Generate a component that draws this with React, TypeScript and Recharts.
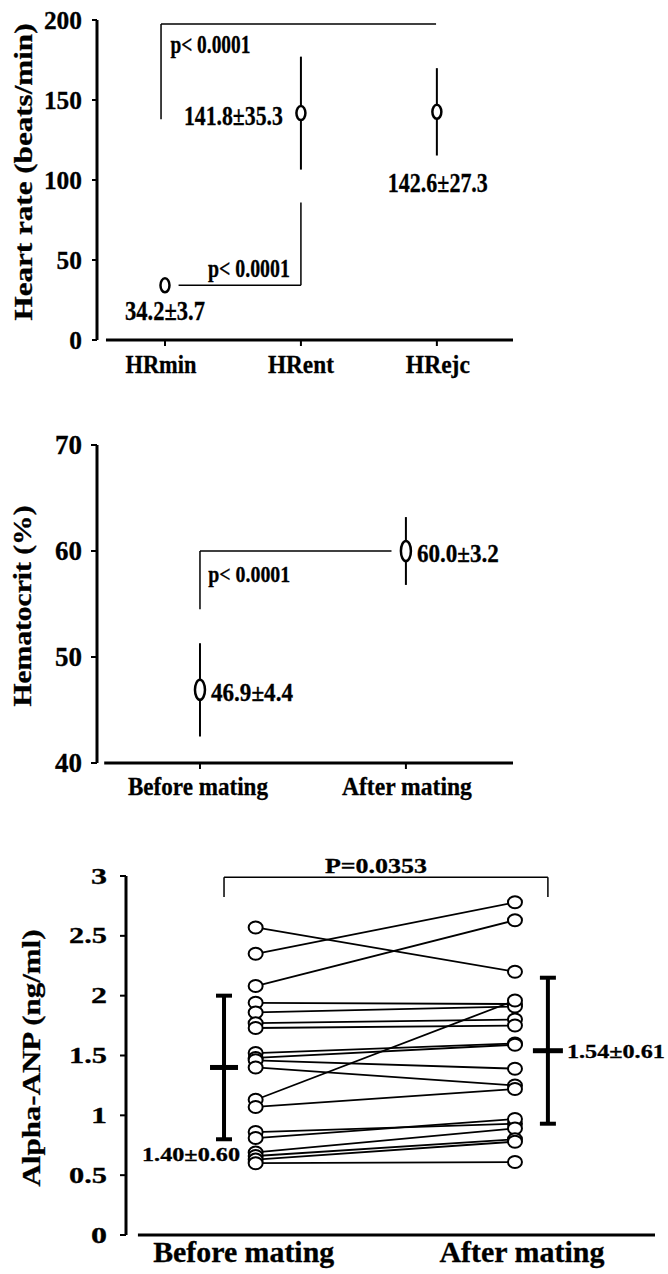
import React from "react";
import {
  ComposedChart,
  Scatter,
  XAxis,
  YAxis,
  ErrorBar,
  ReferenceLine,
  ReferenceDot,
} from "recharts";

const FONT = "'Liberation Serif', 'Times New Roman', serif";

// heart rate panel
const hrGroups = ["HRmin", "HRent", "HRejc"];
const hrMean = [34.2, 141.8, 142.6];
const hrSd = [3.7, 35.3, 27.3];
const hrTicks = [0, 50, 100, 150, 200];

// hematocrit panel
const hctGroups = ["Before mating", "After mating"];
const hctMean = [46.9, 60.0];
const hctSd = [4.4, 3.2];
const hctTicks = [40, 50, 60, 70];

// alpha-ANP panel, one entry per animal
const anpBefore = [2.57, 2.35, 2.08, 1.94, 1.86, 1.77, 1.73, 1.52, 1.48, 1.46, 1.4, 1.13, 1.07, 0.86, 0.81, 0.69, 0.66, 0.63, 0.6];
const anpAfter = [2.2, 2.78, 2.63, 1.93, 1.91, 1.8, 1.75, 1.6, 1.59, 1.39, 1.25, 1.96, 1.22, 0.93, 0.97, 0.89, 0.8, 0.78, 0.61];
const anpMean = [1.4, 1.54];
const anpSd = [0.6, 0.61];
const anpTicks = [0, 0.5, 1, 1.5, 2, 2.5, 3];

type TxtProps = {
  x: number;
  y: number;
  size: number;
  len?: number;
  anchor?: "start" | "middle" | "end";
  vertical?: boolean;
  children: React.ReactNode;
};

const Txt = ({ x, y, size, len, anchor = "start", vertical, children }: TxtProps) => (
  <text
    x={x}
    y={y}
    fontFamily={FONT}
    fontWeight="bold"
    fontSize={size}
    fill="#000"
    stroke="#000"
    strokeWidth={0.3}
    textAnchor={anchor}
    textLength={len}
    lengthAdjust="spacingAndGlyphs"
    transform={vertical ? `rotate(-90 ${x} ${y})` : undefined}
  >
    {children}
  </text>
);

const pm = (m: number, s: number, d: number) => `${m.toFixed(d)}\u00b1${s.toFixed(d)}`;

const digitLen = (s: string, digit: number, dot: number) =>
  s.split("").reduce((a, c) => a + (c === "." ? dot : digit), 0);

const noShape = () => <g />;

const axisProps = { stroke: "#000", strokeWidth: 3 };
const tickLineProps = { stroke: "#000", strokeWidth: 2 };

/* ---------- Heart rate ---------- */
const hrData = hrGroups.map((g, i) => ({ x: i + 1, y: hrMean[i], sd: hrSd[i], i }));
const hrLabelPos = [
  { dx: 0, dy: 35, anchor: "middle" as const, len: 80 },
  { dx: -18, dy: 12, anchor: "end" as const, len: 99 },
  { dx: 1, dy: 80, anchor: "middle" as const, len: 100 },
];

const HrPoint = (p: any) => {
  const lp = hrLabelPos[p.payload.i];
  return (
    <g>
      <ellipse cx={p.cx} cy={p.cy} rx={4.5} ry={7} fill="#fff" stroke="#000" strokeWidth={2.5} />
      <Txt x={p.cx + lp.dx} y={p.cy + lp.dy} size={27} len={lp.len} anchor={lp.anchor}>
        {pm(p.payload.y, p.payload.sd, 1)}
      </Txt>
    </g>
  );
};

const PText = (label: string, len: number, size: number, anchor: "start" | "middle" = "start") =>
  (p: any) => (
    <Txt x={p.cx} y={p.cy} size={size} len={len} anchor={anchor}>
      {label}
    </Txt>
  );

const HeartRate = () => (
  <ComposedChart width={668} height={390} margin={{ top: 20, right: 155, bottom: 10, left: 0 }}>
    <XAxis
      type="number"
      dataKey="x"
      domain={[0.5, 3.56]}
      ticks={[1, 2, 3]}
      axisLine={false}
      tickLine={tickLineProps}
      tickSize={6}
      height={40}
      tick={(p: any) => {
        const i = p.payload.value - 1;
        const dx = [-4, 0, 1][i];
        const len = [71, 66, 64][i];
        return (
          <Txt x={p.x + dx} y={373} size={26} len={len} anchor="middle">
            {hrGroups[i]}
          </Txt>
        );
      }}
    />
    <YAxis
      type="number"
      dataKey="y"
      domain={[0, 200]}
      ticks={hrTicks}
      width={97}
      axisLine={axisProps}
      tickLine={tickLineProps}
      tickSize={5}
      tick={(p: any) => {
        const s = String(p.payload.value);
        return (
          <Txt x={82} y={p.y + 8.5} size={26} len={s.length * 12.7} anchor="end">
            {s}
          </Txt>
        );
      }}
      label={{
        content: () => (
          <Txt x={32} y={172} size={26} len={297} anchor="middle" vertical>
            Heart rate (beats/min)
          </Txt>
        ),
      }}
    />
    <ReferenceLine segment={[{ x: 0.566, y: 0 }, { x: 3.56, y: 0 }]} stroke="#000" strokeWidth={3} />
    {/* HRmin vs HRejc */}
    <ReferenceLine segment={[{ x: 0.971, y: 197.5 }, { x: 2.994, y: 197.5 }]} stroke="#000" strokeWidth={1.5} />
    <ReferenceLine segment={[{ x: 0.971, y: 197.5 }, { x: 0.971, y: 138 }]} stroke="#000" strokeWidth={1.5} />
    <ReferenceDot x={1.04} y={179.4} r={0} shape={PText("p< 0.0001", 80, 25)} />
    {/* HRmin vs HRent */}
    <ReferenceLine segment={[{ x: 1.1, y: 34.2 }, { x: 2, y: 34.2 }]} stroke="#000" strokeWidth={1.5} />
    <ReferenceLine segment={[{ x: 2, y: 34.2 }, { x: 2, y: 86 }]} stroke="#000" strokeWidth={1.5} />
    <ReferenceDot x={1.316} y={39.4} r={0} shape={PText("p< 0.0001", 82, 25)} />
    <Scatter data={hrData} shape={noShape} isAnimationActive={false}>
      <ErrorBar dataKey="sd" direction="y" width={0} stroke="#000" strokeWidth={2} isAnimationActive={false} />
    </Scatter>
    <Scatter data={hrData} shape={HrPoint} isAnimationActive={false} />
  </ComposedChart>
);

/* ---------- Hematocrit ---------- */
const hctData = hctGroups.map((g, i) => ({ x: i + 1, y: hctMean[i], sd: hctSd[i], i }));

const HctPoint = (p: any) => (
  <g>
    <ellipse cx={p.cx} cy={p.cy} rx={5} ry={10} fill="#fff" stroke="#000" strokeWidth={2.5} />
    <Txt x={p.cx + 11} y={p.cy + 11} size={25} len={82}>
      {pm(p.payload.y, p.payload.sd, 1)}
    </Txt>
  </g>
);

const Hematocrit = () => (
  <ComposedChart width={668} height={420} margin={{ top: 45, right: 155, bottom: 10, left: 0 }}>
    <XAxis
      type="number"
      dataKey="x"
      domain={[0.5, 2.52]}
      ticks={[1, 2]}
      axisLine={false}
      tickLine={tickLineProps}
      tickSize={6}
      height={47}
      tick={(p: any) => {
        const i = p.payload.value - 1;
        return (
          <Txt x={p.x + [-2, 1][i]} y={395} size={26} len={[140, 130][i]} anchor="middle">
            {hctGroups[i]}
          </Txt>
        );
      }}
    />
    <YAxis
      type="number"
      dataKey="y"
      domain={[40, 70]}
      ticks={hctTicks}
      width={97}
      axisLine={axisProps}
      tickLine={tickLineProps}
      tickSize={6}
      tick={(p: any) => (
        <Txt x={82} y={p.y + 9} size={27} len={27} anchor="end">
          {p.payload.value}
        </Txt>
      )}
      label={{
        content: () => (
          <Txt x={31} y={206} size={26} len={201} anchor="middle" vertical>
            Hematocrit (%)
          </Txt>
        ),
      }}
    />
    <ReferenceLine segment={[{ x: 0.535, y: 40 }, { x: 2.52, y: 40 }]} stroke="#000" strokeWidth={3} />
    <ReferenceLine segment={[{ x: 1, y: 60 }, { x: 1.93, y: 60 }]} stroke="#000" strokeWidth={1.5} />
    <ReferenceLine segment={[{ x: 1, y: 60 }, { x: 1, y: 54.5 }]} stroke="#000" strokeWidth={1.5} />
    <ReferenceDot x={1.04} y={57.1} r={0} shape={PText("p< 0.0001", 82, 24)} />
    <Scatter data={hctData} shape={noShape} isAnimationActive={false}>
      <ErrorBar dataKey="sd" direction="y" width={0} stroke="#000" strokeWidth={2} isAnimationActive={false} />
    </Scatter>
    <Scatter data={hctData} shape={HctPoint} isAnimationActive={false} />
  </ComposedChart>
);

/* ---------- Alpha-ANP ---------- */
const anpPairs = anpBefore.map((b, i) => [
  { x: 1, y: b },
  { x: 2, y: anpAfter[i] },
]);
const anpBeforePts = anpBefore.map((v) => ({ x: 1, y: v }));
const anpAfterPts = anpAfter.map((v) => ({ x: 2, y: v }));
// mean bars sit just outside the individual columns
const anpMeanData = anpMean.map((m, i) => ({ x: i + 1 + (i === 0 ? -0.122 : 0.127), y: m, sd: anpSd[i], i }));

const Ring = (p: any) => (
  <ellipse cx={p.cx} cy={p.cy} rx={7} ry={6} fill="#fff" stroke="#000" strokeWidth={2} />
);

const MeanBar = (p: any) => {
  const i = p.payload.i;
  const w = i === 0 ? 28 : 30;
  return (
    <g>
      <rect x={p.cx - w / 2} y={p.cy - 2.5} width={w} height={5} fill="#000" />
      {i === 0 ? (
        <Txt x={p.cx + 16} y={p.cy + 94} size={19} len={98} anchor="end">
          {pm(p.payload.y, p.payload.sd, 2)}
        </Txt>
      ) : (
        <Txt x={p.cx + 19} y={p.cy + 7} size={19} len={98}>
          {pm(p.payload.y, p.payload.sd, 2)}
        </Txt>
      )}
    </g>
  );
};

const AlphaAnp = () => (
  <ComposedChart width={668} height={434} margin={{ top: 36, right: 13, bottom: 0, left: 0 }}>
    <XAxis
      type="number"
      dataKey="x"
      domain={[0.5, 2.54]}
      ticks={[1, 2]}
      axisLine={false}
      tickLine={false}
      height={39}
      tick={(p: any) => {
        const i = p.payload.value - 1;
        return (
          <Txt x={p.x + [-12, 7][i]} y={422} size={30} len={[181, 165][i]} anchor="middle">
            {hctGroups[i]}
          </Txt>
        );
      }}
    />
    <YAxis
      type="number"
      dataKey="y"
      domain={[0, 3]}
      ticks={anpTicks}
      width={126}
      axisLine={axisProps}
      tickLine={tickLineProps}
      tickSize={6}
      tick={(p: any) => {
        const s = String(p.payload.value);
        return (
          <Txt x={107} y={p.y + 7.5} size={23} len={digitLen(s, 16, 6)} anchor="end">
            {s}
          </Txt>
        );
      }}
      label={{
        content: () => (
          <Txt x={40} y={218} size={26} len={257} anchor="middle" vertical>
            Alpha-ANP (ng/ml)
          </Txt>
        ),
      }}
    />
    <ReferenceLine segment={[{ x: 0.546, y: 0 }, { x: 2.54, y: 0 }]} stroke="#000" strokeWidth={3} />
    <ReferenceLine segment={[{ x: 0.878, y: 2.99 }, { x: 2.127, y: 2.99 }]} stroke="#000" strokeWidth={1.5} />
    <ReferenceLine segment={[{ x: 0.878, y: 2.99 }, { x: 0.878, y: 2.824 }]} stroke="#000" strokeWidth={1.5} />
    <ReferenceLine segment={[{ x: 2.127, y: 2.99 }, { x: 2.127, y: 2.824 }]} stroke="#000" strokeWidth={1.5} />
    <ReferenceDot x={1.464} y={3.024} r={0} ifOverflow="visible" shape={PText("P=0.0353", 102, 22, "middle")} />
    {anpPairs.map((pair, k) => (
      <Scatter
        key={k}
        data={pair}
        shape={noShape}
        line={{ stroke: "#000", strokeWidth: 1.8 }}
        isAnimationActive={false}
      />
    ))}
    <Scatter data={anpBeforePts} shape={Ring} isAnimationActive={false} />
    <Scatter data={anpAfterPts} shape={Ring} isAnimationActive={false} />
    <Scatter data={anpMeanData} shape={MeanBar} isAnimationActive={false}>
      <ErrorBar dataKey="sd" direction="y" width={8} stroke="#000" strokeWidth={4} isAnimationActive={false} />
    </Scatter>
  </ComposedChart>
);

export default function App() {
  return (
    <div style={{ position: "absolute", left: 0, top: 0, width: 668, height: 1274, background: "#fff" }}>
      <div style={{ position: "absolute", left: 0, top: 0 }}>
        <HeartRate />
      </div>
      <div style={{ position: "absolute", left: 0, top: 400 }}>
        <Hematocrit />
      </div>
      <div style={{ position: "absolute", left: 0, top: 840 }}>
        <AlphaAnp />
      </div>
    </div>
  );
}
